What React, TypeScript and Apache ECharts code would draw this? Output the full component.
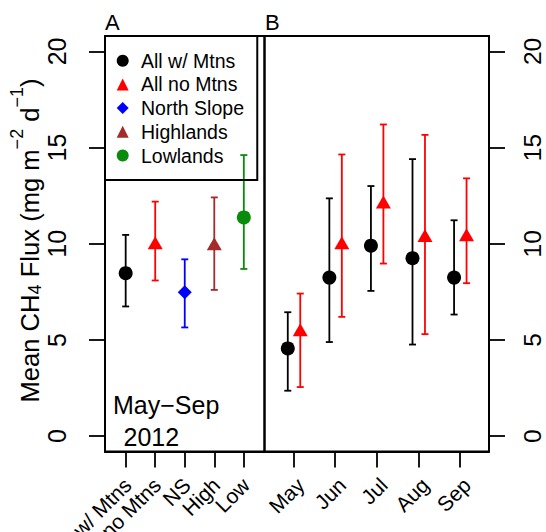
import React, { useEffect, useRef } from "react";
import * as echarts from "echarts";

// Panel A: all months pooled, by group
const groupLabels = ["All w/ Mtns", "All no Mtns", "NS", "High", "Low"];
const groupNames = ["All w/ Mtns", "All no Mtns", "North Slope", "Highlands", "Lowlands"];
const groupMeans = [8.47, 9.94, 7.48, 9.89, 11.37];
const groupLow = [6.74, 8.09, 5.65, 7.6, 8.69];
const groupHigh = [10.46, 12.19, 9.19, 12.41, 14.61];
const groupColors = ["#000000", "#FF0000", "#0000FF", "#A52A2A", "#0B8B0B"];
const groupSymbols = ["circle", "triangle", "diamond", "triangle", "circle"];

// Panel B: by month
const months = ["May", "Jun", "Jul", "Aug", "Sep"];
const mtnsMean = [4.56, 8.24, 9.9, 9.25, 8.24];
const mtnsLow = [2.36, 4.89, 7.55, 4.76, 6.32];
const mtnsHigh = [6.44, 12.36, 13.0, 14.4, 11.22];
const noMtnsMean = [5.41, 9.94, 12.05, 10.32, 10.35];
const noMtnsLow = [2.55, 6.2, 8.97, 5.3, 7.95];
const noMtnsHigh = [7.41, 14.64, 16.2, 15.66, 13.4];

const yTicks = [0, 5, 10, 15, 20];
const catPos = [1, 2, 3, 4, 5];

const FONT = "'Liberation Sans', Arial, Helvetica, sans-serif";

function symbolSize(sym: string): number | number[] {
  if (sym === "triangle") return [15, 13];
  if (sym === "diamond") return [14, 14];
  return 14;
}
function symbolOffset(sym: string): number[] {
  return sym === "triangle" ? [0, -2.2] : [0, 0];
}

const makeErr = (colors: string[]) => (params: any, api: any) => {
  const i = params.dataIndex;
  const x = api.value(0);
  const p1 = api.coord([x, api.value(1)]);
  const p2 = api.coord([x, api.value(2)]);
  const c = colors[i % colors.length];
  const w = 3.5;
  const style = { stroke: c, lineWidth: 1.8, fill: "none" };
  return {
    type: "group",
    children: [
      { type: "line", shape: { x1: p1[0], y1: p1[1], x2: p2[0], y2: p2[1] }, style },
      { type: "line", shape: { x1: p1[0] - w, y1: p1[1], x2: p1[0] + w, y2: p1[1] }, style },
      { type: "line", shape: { x1: p2[0] - w, y1: p2[1], x2: p2[0] + w, y2: p2[1] }, style },
    ],
  };
};

export default function App() {
  const ref = useRef<HTMLDivElement>(null);
  useEffect(() => {
    if (!ref.current) return;
    const chart = echarts.init(ref.current, null, { renderer: "svg" });

    // axis carrying ticks
    const xTickAxis = (gridIndex: number) => ({
      gridIndex,
      type: "value",
      position: "bottom",
      min: 0.3,
      max: 5.7,
      axisLine: { show: true, onZero: false, lineStyle: { color: "#000", width: 2 } },
      splitLine: { show: false },
      axisTick: {
        show: true,
        length: 16,
        customValues: catPos,
        lineStyle: { color: "#000", width: 1.8 },
      },
      axisLabel: { show: false },
    });
    // companion axis carrying the rotated labels (shifted like R's srt=45 text)
    const xLabelAxis = (gridIndex: number, labels: string[], shift: number) => ({
      gridIndex,
      type: "value",
      position: "bottom",
      offset: 0,
      min: 0.3 - shift,
      max: 5.7 - shift,
      axisLine: { show: false, onZero: false },
      splitLine: { show: false },
      axisTick: { show: false },
      axisLabel: {
        customValues: catPos,
        interval: 0,
        formatter: (v: number) => labels[Math.round(v) - 1],
        rotate: 45,
        margin: 30,
        lineHeight: 16,
        fontSize: 21,
        color: "#000",
        fontFamily: FONT,
        showMinLabel: true,
        showMaxLabel: true,
        hideOverlap: false,
      },
    });

    const yAxisCommon = (gridIndex: number, position: string, margin: number, fontSize: number, lineHeight: number) => ({
      gridIndex,
      type: "value",
      position,
      min: -0.8,
      max: 20.8,
      axisLine: { show: true, onZero: false, lineStyle: { color: "#000", width: 2 } },
      splitLine: { show: false },
      axisTick: {
        show: true,
        length: 16,
        customValues: yTicks,
        lineStyle: { color: "#000", width: 1.8 },
      },
      axisLabel: {
        customValues: yTicks,
        interval: 0,
        rotate: 90,
        margin,
        fontSize,
        lineHeight,
        color: "#000",
        fontFamily: FONT,
        showMinLabel: true,
        showMaxLabel: true,
        hideOverlap: false,
      },
    });

    const series: any[] = [];
    // Panel A error bars
    series.push({
      type: "custom",
      name: "errA",
      xAxisIndex: 0,
      yAxisIndex: 0,
      renderItem: makeErr(groupColors),
      encode: { x: 0, y: [1, 2] },
      data: catPos.map((x, i) => [x, groupLow[i], groupHigh[i]]),
      z: 2,
      silent: true,
    });
    // Panel A points
    groupNames.forEach((name, i) => {
      series.push({
        type: "scatter",
        name,
        xAxisIndex: 0,
        yAxisIndex: 0,
        symbol: groupSymbols[i],
        symbolSize: symbolSize(groupSymbols[i]),
        symbolOffset: symbolOffset(groupSymbols[i]),
        itemStyle: { color: groupColors[i], opacity: 1 },
        data: [[catPos[i], groupMeans[i]]],
        z: 3,
      });
    });
    // Panel B error bars
    const bx = catPos.map((x) => x - 0.14);
    const rx = catPos.map((x) => x + 0.16);
    series.push({
      type: "custom",
      name: "errB1",
      xAxisIndex: 1,
      yAxisIndex: 1,
      renderItem: makeErr(["#000000"]),
      encode: { x: 0, y: [1, 2] },
      data: bx.map((x, i) => [x, mtnsLow[i], mtnsHigh[i]]),
      z: 2,
      silent: true,
    });
    series.push({
      type: "custom",
      name: "errB2",
      xAxisIndex: 1,
      yAxisIndex: 1,
      renderItem: makeErr(["#FF0000"]),
      encode: { x: 0, y: [1, 2] },
      data: rx.map((x, i) => [x, noMtnsLow[i], noMtnsHigh[i]]),
      z: 2,
      silent: true,
    });
    series.push({
      type: "scatter",
      name: groupNames[0],
      xAxisIndex: 1,
      yAxisIndex: 1,
      symbol: "circle",
      symbolSize: 14,
      itemStyle: { color: "#000000", opacity: 1 },
      data: bx.map((x, i) => [x, mtnsMean[i]]),
      z: 3,
    });
    series.push({
      type: "scatter",
      name: groupNames[1],
      xAxisIndex: 1,
      yAxisIndex: 1,
      symbol: "triangle",
      symbolSize: [15, 13],
      symbolOffset: [0, -2.2],
      itemStyle: { color: "#FF0000", opacity: 1 },
      data: rx.map((x, i) => [x, noMtnsMean[i]]),
      z: 3,
    });

    const gridCommon = {
      top: 36,
      height: 415.5,
      show: true,
      borderColor: "#000",
      borderWidth: 2,
      containLabel: false,
      outerBoundsMode: "none",
    };

    const option: any = {
      animation: false,
      backgroundColor: "#ffffff",
      textStyle: { fontFamily: FONT },
      grid: [
        { ...gridCommon, left: 105, width: 159.5 },
        { ...gridCommon, left: 264.5, width: 224.5 },
      ],
      xAxis: [
        xTickAxis(0),
        xTickAxis(1),
        xLabelAxis(0, groupLabels, 2 / (159.5 / 5.4)),
        xLabelAxis(1, months, 7 / (224.5 / 5.4)),
      ],
      yAxis: [yAxisCommon(0, "left", 36, 25, 25), yAxisCommon(1, "right", 34.5, 24.5, 18)],
      legend: {
        data: groupNames,
        orient: "vertical",
        left: 105,
        top: 36,
        padding: [14.7, 13.3, 14.5, 11.7],
        itemGap: 3.7,
        itemWidth: 12,
        itemHeight: 12,
        borderColor: "#000",
        borderWidth: 2,
        selectedMode: false,
        textStyle: { fontSize: 19.5, lineHeight: 20, padding: [0, 0, 0, 7.3], color: "#000", fontFamily: FONT },
      },
      graphic: [
        {
          type: "text",
          x: 105,
          y: 22,
          style: { text: "A", fontSize: 22, fontFamily: FONT, fill: "#000", align: "left", verticalAlign: "middle", textAlign: "left", textVerticalAlign: "middle" },
        },
        {
          type: "text",
          x: 265,
          y: 22,
          style: { text: "B", fontSize: 22, fontFamily: FONT, fill: "#000", align: "left", verticalAlign: "middle", textAlign: "left", textVerticalAlign: "middle" },
        },
        {
          type: "text",
          x: 113,
          y: 405.3,
          style: { text: "May\u2212Sep", fontSize: 25, fontFamily: FONT, fill: "#000", align: "left", verticalAlign: "middle", textAlign: "left", textVerticalAlign: "middle" },
        },
        {
          type: "text",
          x: 123.5,
          y: 437.3,
          style: { text: "2012", fontSize: 25, fontFamily: FONT, fill: "#000", align: "left", verticalAlign: "middle", textAlign: "left", textVerticalAlign: "middle" },
        },
        {
          type: "text",
          x: 29.5,
          y: 240.5,
          rotation: Math.PI / 2,
          style: {
            text: "{a|Mean CH}{sub|4}{a| Flux (mg m}{sup|\u22122}{a| d}{sup|\u22121}{a|)}",
            fontFamily: FONT,
            fill: "#000",
            align: "center",
            verticalAlign: "middle",
            textAlign: "center",
            textVerticalAlign: "middle",
            rich: {
              a: { fontSize: 25.6, lineHeight: 25.6, fontFamily: FONT, fill: "#000" },
              sub: { fontSize: 18, lineHeight: 18, padding: [11, 0, 0, 0], fontFamily: FONT, fill: "#000" },
              sup: { fontSize: 18, lineHeight: 18, padding: [0, 0, 25, 0], fontFamily: FONT, fill: "#000" },
            },
          },
        },
      ],
      series,
    };
    chart.setOption(option);
    return () => chart.dispose();
  }, []);
  return (
    <div
      ref={ref}
      style={{ position: "absolute", left: 0, top: 0, width: 546, height: 532, background: "#fff" }}
    />
  );
}
